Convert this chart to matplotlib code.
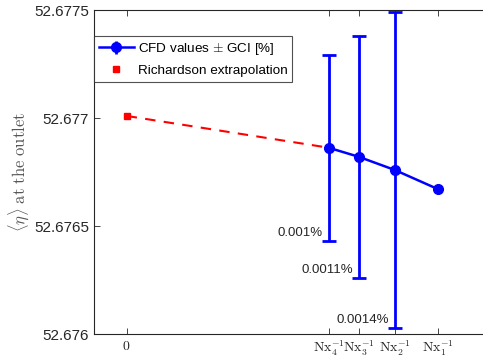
import matplotlib
matplotlib.use("Agg")
from matplotlib import pyplot as plt

plt.rcParams["font.family"] = ["Liberation Sans", "DejaVu Sans"]
plt.rcParams["mathtext.fontset"] = "cm"

# grid sizes (finest last in the plot -> coarsest Nx1)
nx = [154, 134, 116, 100]
tick_names = [r"$\mathrm{Nx}_4^{-1}$", r"$\mathrm{Nx}_3^{-1}$",
              r"$\mathrm{Nx}_2^{-1}$", r"$\mathrm{Nx}_1^{-1}$"]
cfd_values = [52.676864, 52.676822, 52.676761, 52.676673]
gci_abs = [0.000431, 0.000560, 0.000731, 0.0]
gci_labels = ["0.001%", "0.0011%", "0.0014%"]
richardson = 52.677011

x = [1.0 / n for n in nx]
dark = "#262626"

fig = plt.figure(figsize=(4.83, 3.62), dpi=100)
ax = fig.add_axes([0.1946, 0.0765, 0.84, 0.895])

# dashed extrapolation line from finest grid to x=0
ax.plot([0, x[0]], [richardson, cfd_values[0]], color="red",
        linestyle="--", dashes=(5, 4), linewidth=1.5)

ax.errorbar(x[:3], cfd_values[:3], yerr=gci_abs[:3], fmt="none",
            ecolor="blue", elinewidth=2, capsize=5, capthick=2, zorder=3)
ax.plot(x, cfd_values, color="blue", marker="o", markersize=7,
        linewidth=1.8, zorder=4)
ax.plot([0], [richardson], "s", color="red", markersize=5, zorder=4)

# legend handles
h_cfd = ax.errorbar([], [], yerr=[], color="blue", marker="o", markersize=7,
                    linewidth=1.8, elinewidth=2, capsize=5, capthick=2)
h_rich, = ax.plot([], [], "s", color="red", markersize=5, linestyle="none")

for xi, yi, ei, lab in zip(x, cfd_values, gci_abs, gci_labels):
    ax.annotate(lab, (xi, yi - ei), xytext=(-6, 8), textcoords="offset pixels",
                ha="right", va="center", fontsize=9.5, color=dark)

ax.set_xlim(-0.00105, 0.012)
ax.set_ylim(52.676, 52.6775)
ax.set_yticks([52.676, 52.6765, 52.677, 52.6775])
ax.set_yticklabels(["52.676", "52.6765", "52.677", "52.6775"])
ax.set_xticks([0] + x)
ax.set_xticklabels([r"$0$"] + tick_names)

ax.tick_params(axis="both", direction="in", top=True, right=True,
               colors=dark, labelsize=11, length=4, width=0.6)
ax.tick_params(axis="x", labelsize=10)
for s in ax.spines.values():
    s.set_color(dark)
    s.set_linewidth(0.8)

ax.set_ylabel(r"$\langle\eta\rangle\ \mathrm{at\ the\ outlet}$",
              fontsize=12, color="#555555")
ax.yaxis.set_label_coords(-0.155, 0.5)

leg = ax.legend([h_cfd, h_rich],
                [r"CFD values $\pm$ GCI [%]", "Richardson extrapolation"],
                loc="upper left", bbox_to_anchor=(0.0, 0.92), fontsize=9.7,
                frameon=True, fancybox=False, edgecolor=dark,
                borderaxespad=0, handlelength=2.6, labelspacing=0.55,
                handletextpad=0.3, borderpad=0.35)
leg.get_frame().set_linewidth(0.8)

plt.savefig("out.png", dpi=100)
plt.close()
